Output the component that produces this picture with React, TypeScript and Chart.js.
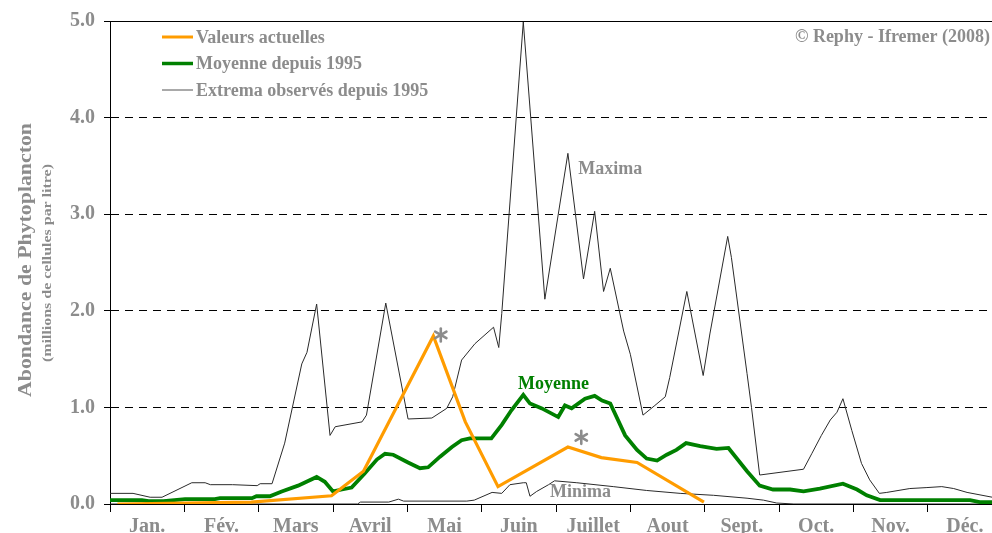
import React, { useEffect, useRef } from 'react';
import { Chart, registerables } from 'chart.js';

Chart.register(...registerables);

const FONT = "'Liberation Serif', 'Times New Roman', serif";
const GRAY = '#8c8c8c';
const ORANGE = '#ff9c00';
const GREEN = '#008000';
const LINE_DARK = '#2a2a2a';

const MONTHS = ['Jan.', 'Fév.', 'Mars', 'Avril', 'Mai', 'Juin', 'Juillet', 'Aout', 'Sept.', 'Oct.', 'Nov.', 'Déc.'];
const Y_TICKS = [0, 1, 2, 3, 4, 5];

const SERIES_LABELS = ['Valeurs actuelles', 'Moyenne depuis 1995', 'Extrema observés depuis 1995'];
const CREDIT = '© Rephy - Ifremer (2008)';
const Y_TITLE = 'Abondance de Phytoplancton';
const Y_SUBTITLE = '(millions de cellules par litre)';

// x values are positions in months (0 = 1st January, 12 = 31st December)
const MAXIMA_MONTH = [0.00, 0.31, 0.54, 0.70, 1.10, 1.28, 1.35, 1.65, 1.98, 2.02, 2.18, 2.35, 2.58, 2.65, 2.78, 2.96, 3.03, 3.39, 3.45, 3.71, 4.01, 4.33, 4.53, 4.61, 4.73, 4.91, 5.16, 5.23, 5.27, 5.56, 5.85, 6.16, 6.37, 6.52, 6.64, 6.73, 6.91, 7.00, 7.17, 7.33, 7.47, 7.53, 7.76, 7.98, 8.07, 8.31, 8.36, 8.57, 8.63, 8.74, 9.33, 9.44, 9.57, 9.69, 9.78, 9.86, 9.98, 10.11, 10.22, 10.35, 10.45, 10.76, 10.99, 11.19, 11.35, 11.53, 11.87, 12.00];
const MAXIMA_VALUE = [0.11, 0.11, 0.07, 0.07, 0.22, 0.22, 0.20, 0.20, 0.19, 0.21, 0.21, 0.63, 1.45, 1.57, 2.07, 0.71, 0.80, 0.85, 0.92, 2.08, 0.88, 0.89, 0.99, 1.11, 1.49, 1.66, 1.83, 1.62, 1.97, 4.99, 2.12, 3.63, 2.33, 3.03, 2.20, 2.44, 1.79, 1.55, 0.92, 1.02, 1.11, 1.31, 2.20, 1.33, 1.76, 2.77, 2.55, 1.35, 1.00, 0.30, 0.36, 0.52, 0.71, 0.87, 0.95, 1.09, 0.76, 0.42, 0.25, 0.11, 0.12, 0.16, 0.17, 0.18, 0.16, 0.12, 0.07, 0.06];

const MOYENNE_MONTH = [0.00, 0.43, 0.52, 0.72, 1.01, 1.41, 1.48, 1.91, 1.97, 2.15, 2.31, 2.53, 2.78, 2.89, 3.00, 3.12, 3.25, 3.42, 3.59, 3.70, 3.81, 4.01, 4.17, 4.28, 4.44, 4.60, 4.73, 4.84, 5.13, 5.27, 5.40, 5.56, 5.65, 5.81, 6.03, 6.12, 6.21, 6.39, 6.52, 6.62, 6.73, 6.93, 7.09, 7.22, 7.36, 7.49, 7.62, 7.75, 7.94, 8.16, 8.32, 8.57, 8.74, 8.92, 9.15, 9.33, 9.55, 9.86, 10.05, 10.18, 10.36, 11.57, 11.70, 12.00];
const MOYENNE_VALUE = [0.04, 0.04, 0.03, 0.03, 0.05, 0.05, 0.06, 0.06, 0.08, 0.08, 0.13, 0.19, 0.28, 0.23, 0.13, 0.15, 0.17, 0.31, 0.46, 0.52, 0.51, 0.43, 0.37, 0.38, 0.49, 0.59, 0.66, 0.68, 0.68, 0.82, 0.97, 1.13, 1.04, 0.99, 0.90, 1.02, 0.99, 1.09, 1.12, 1.07, 1.04, 0.71, 0.56, 0.47, 0.45, 0.51, 0.56, 0.63, 0.60, 0.57, 0.58, 0.34, 0.19, 0.15, 0.15, 0.13, 0.16, 0.21, 0.15, 0.09, 0.04, 0.04, 0.02, 0.02];

const MINIMA_MONTH = [0.00, 3.33, 3.37, 3.75, 3.88, 3.95, 4.80, 4.90, 5.14, 5.27, 5.38, 5.56, 5.60, 5.65, 5.74, 5.90, 5.98, 6.28, 6.77, 7.22, 7.67, 8.12, 8.57, 8.79, 8.97, 9.20, 12.00];
const MINIMA_VALUE = [0.00, 0.00, 0.02, 0.02, 0.05, 0.03, 0.03, 0.04, 0.12, 0.11, 0.20, 0.22, 0.22, 0.08, 0.13, 0.20, 0.24, 0.22, 0.18, 0.14, 0.11, 0.09, 0.06, 0.04, 0.01, 0.00, 0.00];

const ACTUEL_MONTH = [0.10, 1.90, 2.98, 3.41, 4.35, 4.78, 5.22, 6.16, 6.61, 7.09, 7.99];
const ACTUEL_VALUE = [0.00, 0.02, 0.085, 0.34, 1.74, 0.85, 0.18, 0.59, 0.48, 0.43, 0.02];

// in-chart labels, anchored in data coordinates (month, value)
const NOTE_TEXT = ['Maxima', 'Moyenne', 'Minima'];
const NOTE_MONTH = [6.30, 5.49, 5.92];
const NOTE_VALUE = [3.46, 1.24, 0.12];
const NOTE_COLOR = [GRAY, GREEN, GRAY];

const STAR_MONTH = [4.45, 6.34];
const STAR_VALUE = [1.75, 0.69];

const toPoints = (xs: number[], ys: number[]) => xs.map((x, i) => ({ x, y: ys[i] }));

function fittedText(ctx: CanvasRenderingContext2D, text: string, x: number, y: number, targetW: number, size: number, color: string, rotate: boolean) {
  ctx.save();
  ctx.translate(x, y);
  if (rotate) ctx.rotate(-Math.PI / 2);
  ctx.font = `bold ${size}px ${FONT}`;
  const w = ctx.measureText(text).width;
  ctx.scale(targetW / w, 1);
  ctx.fillStyle = color;
  ctx.textAlign = 'center';
  ctx.textBaseline = 'middle';
  ctx.fillText(text, 0, 0);
  ctx.restore();
}

const overlay = {
  id: 'overlay',
  afterDraw(chart: any) {
    const { ctx, chartArea: a, scales } = chart;
    const xs = scales.x;
    const ys = scales.y;
    ctx.save();
    // top frame line
    ctx.strokeStyle = '#000';
    ctx.lineWidth = 1;
    ctx.beginPath();
    const ty = Math.round(a.top) + 0.5;
    ctx.moveTo(a.left, ty);
    ctx.lineTo(a.right, ty);
    ctx.stroke();

    // legend
    const legendColors = [ORANGE, GREEN, '#555'];
    const legendWidths = [3, 3.5, 1];
    SERIES_LABELS.forEach((label, i) => {
      const yy = 37 + i * 26.5;
      ctx.strokeStyle = legendColors[i];
      ctx.lineWidth = legendWidths[i];
      ctx.beginPath();
      ctx.moveTo(162, yy);
      ctx.lineTo(193, yy);
      ctx.stroke();
      ctx.fillStyle = GRAY;
      ctx.font = `bold 18px ${FONT}`;
      ctx.textAlign = 'left';
      ctx.textBaseline = 'middle';
      ctx.fillText(label, 196, yy + 1);
    });

    // credit
    ctx.fillStyle = GRAY;
    ctx.font = `bold 18px ${FONT}`;
    ctx.textAlign = 'right';
    ctx.textBaseline = 'middle';
    ctx.fillText(CREDIT, 990, 37);

    // notes
    NOTE_TEXT.forEach((t, i) => {
      ctx.fillStyle = NOTE_COLOR[i];
      ctx.font = `bold 18px ${FONT}`;
      ctx.textAlign = 'left';
      ctx.textBaseline = 'middle';
      ctx.fillText(t, xs.getPixelForValue(NOTE_MONTH[i]), ys.getPixelForValue(NOTE_VALUE[i]));
    });

    // asterisks
    STAR_MONTH.forEach((m, i) => {
      const cx = xs.getPixelForValue(m);
      const cy = ys.getPixelForValue(STAR_VALUE[i]);
      ctx.strokeStyle = GRAY;
      ctx.lineWidth = 2.6;
      ctx.lineCap = 'round';
      for (let k = 0; k < 3; k++) {
        const ang = Math.PI / 2 + (k * Math.PI) / 3;
        const dx = Math.cos(ang) * 6.5;
        const dy = Math.sin(ang) * 6.5;
        ctx.beginPath();
        ctx.moveTo(cx - dx, cy - dy);
        ctx.lineTo(cx + dx, cy + dy);
        ctx.stroke();
      }
    });

    // axis titles
    fittedText(ctx, Y_TITLE, 26, 260, 274, 19, GRAY, true);
    fittedText(ctx, Y_SUBTITLE, 48, 263, 198, 13, GRAY, true);
    ctx.restore();
  },
};

export default function App() {
  const canvasRef = useRef<HTMLCanvasElement | null>(null);

  useEffect(() => {
    document.documentElement.style.overflow = 'hidden';
    document.body.style.overflow = 'hidden';
    const canvas = canvasRef.current;
    if (!canvas) return;
    const tickFont = { family: FONT, size: 20, weight: 'bold' as const };
    const monthTicks = [
      ...MONTHS.map((_, i) => i),
      12,
      ...MONTHS.map((_, i) => i + 0.5),
    ].sort((p, q) => p - q);

    const chart = new Chart(canvas, {
      type: 'line',
      data: {
        datasets: [
          {
            label: SERIES_LABELS[0],
            data: toPoints(ACTUEL_MONTH, ACTUEL_VALUE),
            borderColor: ORANGE,
            borderWidth: 3.2,
            pointRadius: 0,
            tension: 0,
            order: 0,
          },
          {
            label: SERIES_LABELS[1],
            data: toPoints(MOYENNE_MONTH, MOYENNE_VALUE),
            borderColor: GREEN,
            borderWidth: 3.8,
            pointRadius: 0,
            tension: 0,
            order: 1,
          },
          {
            label: 'Maxima',
            data: toPoints(MAXIMA_MONTH, MAXIMA_VALUE),
            borderColor: LINE_DARK,
            borderWidth: 1,
            pointRadius: 0,
            tension: 0,
            order: 2,
          },
          {
            label: 'Minima',
            data: toPoints(MINIMA_MONTH, MINIMA_VALUE),
            borderColor: LINE_DARK,
            borderWidth: 1,
            pointRadius: 0,
            tension: 0,
            order: 2,
          },
        ],
      },
      options: {
        animation: false,
        responsive: false,
        devicePixelRatio: 1,
        layout: { padding: { left: 0, top: 18, right: 8, bottom: 0 } },
        plugins: { legend: { display: false }, tooltip: { enabled: false } },
        scales: {
          x: {
            type: 'linear',
            min: 0,
            max: 12,
            afterBuildTicks: (s: any) => {
              s.ticks = monthTicks.map((v) => ({ value: v }));
            },
            afterFit: (s: any) => {
              s.height = 29;
            },
            ticks: {
              autoSkip: false,
              maxRotation: 0,
              minRotation: 0,
              padding: 3,
              color: GRAY,
              font: tickFont,
              callback: (v: any) => (Number.isInteger(v) ? '' : MONTHS[Math.floor(v)]),
            },
            grid: {
              drawOnChartArea: false,
              drawTicks: true,
              tickLength: 8,
              tickWidth: 1,
              tickColor: (c: any) => (c.tick && Number.isInteger(c.tick.value) ? '#000' : 'rgba(0,0,0,0)'),
            },
            border: { display: true, color: '#000', width: 1 },
          },
          y: {
            type: 'linear',
            min: 0,
            max: 5,
            afterBuildTicks: (s: any) => {
              s.ticks = Y_TICKS.map((v) => ({ value: v }));
            },
            afterFit: (s: any) => {
              s.width = 110;
            },
            ticks: {
              padding: 9,
              color: GRAY,
              font: tickFont,
              callback: (v: any) => Number(v).toFixed(1),
            },
            grid: {
              color: (c: any) => (c.tick && (c.tick.value === 0 || c.tick.value === 5) ? 'rgba(0,0,0,0)' : '#000'),
              lineWidth: 1,
              drawTicks: true,
              tickLength: 6,
              tickColor: '#000',
            },
            border: { display: true, color: '#000', width: 1, dash: [8, 6] },
          },
        },
      },
      plugins: [overlay],
    } as any);
    return () => chart.destroy();
  }, []);

  return (
    <div style={{ position: 'absolute', left: 0, top: 0, width: 1010, height: 533, background: '#fff' }}>
      <canvas ref={canvasRef} width={1010} height={533} style={{ display: 'block' }} />
    </div>
  );
}
